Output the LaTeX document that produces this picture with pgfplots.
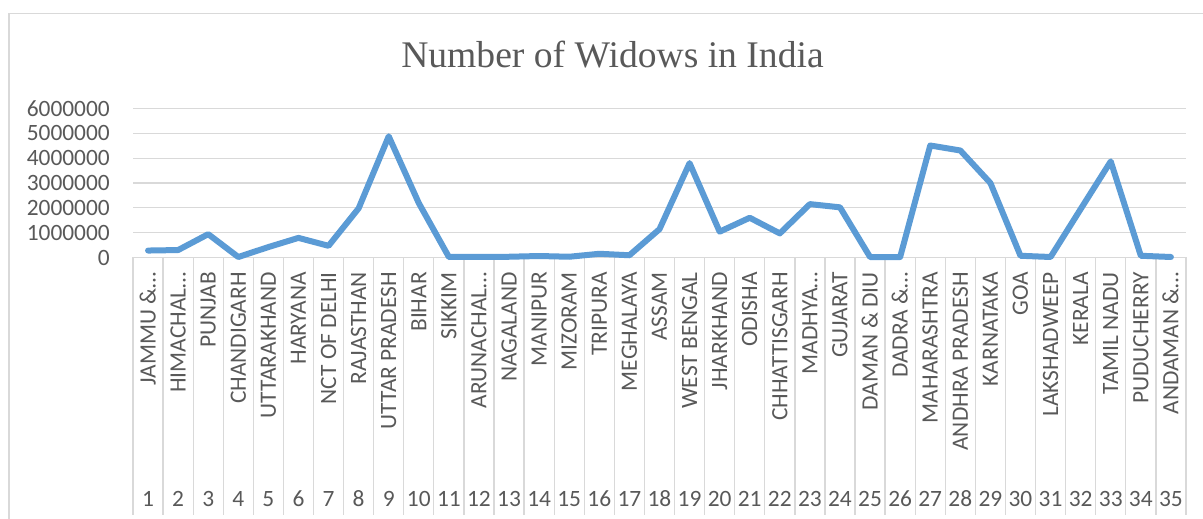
\documentclass[border=0pt]{standalone}
\usepackage{fontspec}
\setmainfont{Carlito}
\newfontfamily\titlefont{Liberation Serif}
\usepackage{pgfplots}
\usepackage{pgfplotstable}
\pgfplotsset{compat=1.18}

\definecolor{series}{HTML}{5B9BD5}
\definecolor{gridgray}{HTML}{D9D9D9}
\definecolor{labelgray}{HTML}{595959}

% widows per state/UT, index as in the chart
\pgfplotstableread{
idx widows
1 280000
2 300000
3 940000
4 20000
5 420000
6 790000
7 470000
8 1980000
9 4880000
10 2190000
11 20000
12 30000
13 30000
14 60000
15 30000
16 150000
17 90000
18 1140000
19 3800000
20 1040000
21 1600000
22 970000
23 2150000
24 2020000
25 20000
26 20000
27 4510000
28 4310000
29 3000000
30 70000
31 20000
32 1950000
33 3870000
34 70000
35 20000
}\widows

\begin{document}
\begin{tikzpicture}
\useasboundingbox (0,0) rectangle (1203pt,519pt);
% chart area frame (cut off right and bottom)
\draw[gridgray, line width=1.3pt] (9pt,0pt) -- (9pt,505.7pt) -- (1203pt,505.7pt);
\node[anchor=base, inner sep=0pt, text=labelgray,
      font=\titlefont\fontsize{37.6}{40}\selectfont]
  at (612.5pt,451.3pt) {Number of Widows in India};
\begin{axis}[
  at={(133pt,261.5pt)}, anchor=south west,
  scale only axis, width=1053pt, height=149pt,
  xmin=0.5, xmax=35.5, ymin=0, ymax=6000000,
  clip=false,
  axis x line=bottom, axis y line=left,
  x axis line style={-, draw=gridgray, line width=1.3pt},
  y axis line style={draw=none},
  ymajorgrids,
  grid style={draw=gridgray, line width=1.3pt},
  scaled y ticks=false,
  ytick={0,1000000,2000000,3000000,4000000,5000000,6000000},
  yticklabels={0,1000000,2000000,3000000,4000000,5000000,6000000},
  tick align=outside,
  major tick length=0pt,
  minor tick length=257.5pt,
  minor xtick={0.5,1.5,...,35.5},
  minor tick style={draw=gridgray, line width=1.3pt},
  tick label style={font=\fontsize{23.4}{28}\selectfont, text=labelgray},
  yticklabel style={anchor=east, inner sep=0pt, xshift=-23pt},
  xtick={1,...,35},
  xticklabels={JAMMU \&…, HIMACHAL…, PUNJAB, CHANDIGARH, UTTARAKHAND,
    HARYANA, NCT OF DELHI, RAJASTHAN, UTTAR PRADESH, BIHAR, SIKKIM,
    ARUNACHAL…, NAGALAND, MANIPUR, MIZORAM, TRIPURA, MEGHALAYA, ASSAM,
    WEST BENGAL, JHARKHAND, ODISHA, CHHATTISGARH, MADHYA…, GUJARAT,
    DAMAN \& DIU, DADRA \&…, MAHARASHTRA, ANDHRA PRADESH, KARNATAKA, GOA,
    LAKSHADWEEP, KERALA, TAMIL NADU, PUDUCHERRY, ANDAMAN \&…},
  xticklabel style={yshift=-14.5pt, rotate=90, anchor=east, inner sep=0pt,
    text height=15pt, text depth=0pt},
  extra x ticks={1,...,35},
  extra x tick labels={1,2,3,4,5,6,7,8,9,10,11,12,13,14,15,16,17,18,19,20,
    21,22,23,24,25,26,27,28,29,30,31,32,33,34,35},
  extra x tick style={xticklabel style={rotate=-90, yshift=-234.7pt,
    anchor=base, text height=, text depth=}},
]
\addplot[series, line width=6pt, line join=round, line cap=round]
  table[x=idx, y=widows] {\widows};
\end{axis}
\end{tikzpicture}
\end{document}
